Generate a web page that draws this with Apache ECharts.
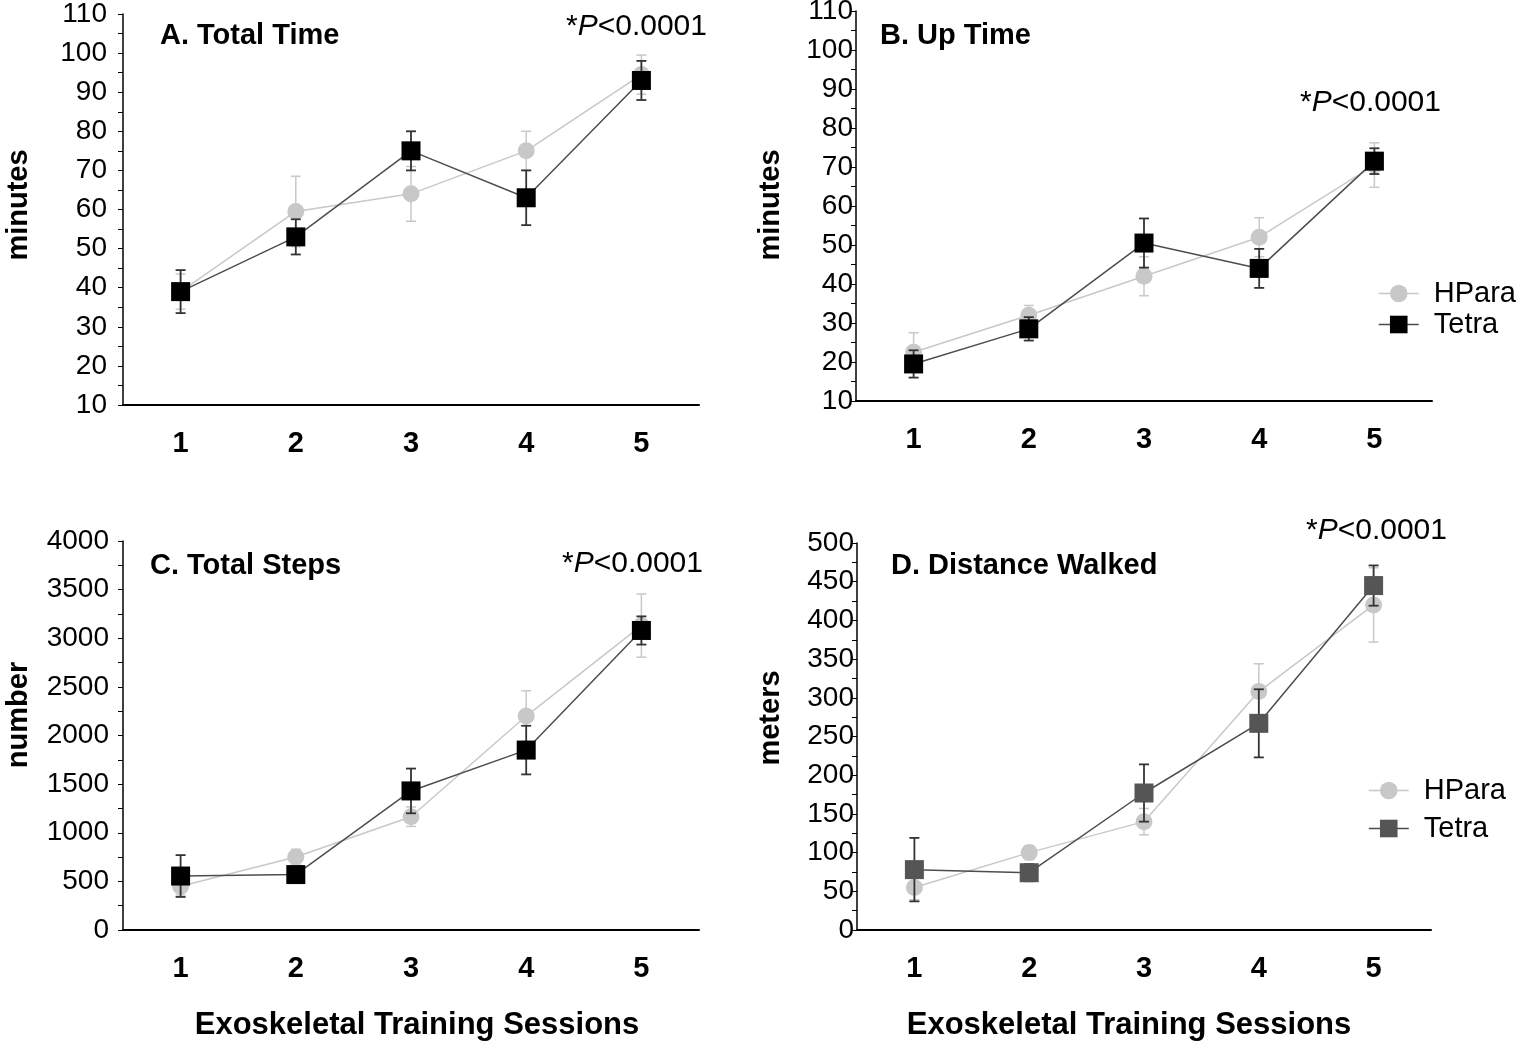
<!DOCTYPE html>
<html lang="en">
<head>
    <meta charset="UTF-8">
    <title>Exoskeletal Training Sessions</title>
    <script src="https://cdn.jsdelivr.net/npm/echarts@6/dist/echarts.min.js"></script>
    <style>
        html, body { margin: 0; padding: 0; background: #fff; }
        #main { width: 1520px; height: 1048px; }
    </style>
</head>
<body>
    <div id="main"></div>
    <script>
        const sessions = ['1', '2', '3', '4', '5'];

        // A. Total Time (minutes), mean and error
        const totalTimeHPara = [39, 59.5, 64, 75, 94.5];
        const totalTimeHParaErr = [4.5, 9, 7, 5, 5];
        const totalTimeTetra = [39, 53, 75, 63, 93];
        const totalTimeTetraErr = [5.5, 4.5, 5, 7, 5];

        // B. Up Time (minutes)
        const upTimeHPara = [22.5, 32, 42, 52, 70.5];
        const upTimeHParaErr = [5, 2.5, 5, 5, 5.7];
        const upTimeTetra = [19.5, 28.5, 50.5, 44, 71.5];
        const upTimeTetraErr = [3.5, 3, 6.3, 5, 3.3];

        // C. Total Steps (number)
        const stepsHPara = [450, 750, 1165, 2200, 3130];
        const stepsHParaErr = [90, 80, 100, 260, 325];
        const stepsTetra = [555, 570, 1430, 1850, 3080];
        const stepsTetraErr = [215, 40, 230, 250, 145];

        // D. Distance Walked (meters)
        const distHPara = [55, 100, 140, 308, 420];
        const distHParaErr = [16, 9, 17, 36, 48];
        const distTetra = [78, 74, 177, 267, 445];
        const distTetraErr = [41, 11, 37, 44, 26];

        const FONT = '"Liberation Sans", Arial, Helvetica, sans-serif';
        const HPARA_COLOR = '#c8c8c8';
        const TETRA_LINE = '#4d4d4d';

        const panels = [
            { grid: { left: 123, top: 14, width: 576, height: 391 }, min: 10, max: 110, interval: 10, labelMargin: 16,
              hp: totalTimeHPara, hpErr: totalTimeHParaErr, te: totalTimeTetra, teErr: totalTimeTetraErr, teColor: '#000' },
            { grid: { left: 856, top: 11, width: 576, height: 390 }, min: 10, max: 110, interval: 10, labelMargin: 3,
              hp: upTimeHPara, hpErr: upTimeHParaErr, te: upTimeTetra, teErr: upTimeTetraErr, teColor: '#000' },
            { grid: { left: 123, top: 541, width: 576, height: 389 }, min: 0, max: 4000, interval: 500, labelMargin: 14,
              hp: stepsHPara, hpErr: stepsHParaErr, te: stepsTetra, teErr: stepsTetraErr, teColor: '#000' },
            { grid: { left: 857, top: 543, width: 574, height: 387 }, min: 0, max: 500, interval: 50, labelMargin: 3,
              hp: distHPara, hpErr: distHParaErr, te: distTetra, teErr: distTetraErr, teColor: '#555' }
        ];

        function errorBar(color, width) {
            return function (params, api) {
                const x = api.value(0);
                const top = api.coord([x, api.value(2)]);
                const bot = api.coord([x, api.value(1)]);
                const hw = 5;
                const style = { stroke: color, lineWidth: width };
                return {
                    type: 'group',
                    children: [
                        { type: 'line', shape: { x1: top[0], y1: top[1], x2: bot[0], y2: bot[1] }, style: style },
                        { type: 'line', shape: { x1: top[0] - hw, y1: top[1], x2: top[0] + hw, y2: top[1] }, style: style },
                        { type: 'line', shape: { x1: bot[0] - hw, y1: bot[1], x2: bot[0] + hw, y2: bot[1] }, style: style }
                    ]
                };
            };
        }

        const grids = [], xAxes = [], yAxes = [], series = [];

        panels.forEach((p, i) => {
            grids.push(Object.assign({ outerBoundsMode: 'none', containLabel: false }, p.grid));
            xAxes.push({
                type: 'category',
                gridIndex: i,
                data: sessions,
                boundaryGap: true,
                axisLine: { lineStyle: { color: '#000', width: 2 } },
                axisTick: { alignWithLabel: true, length: 5, lineStyle: { color: '#555' } },
                axisLabel: { interval: 0, margin: 24, color: '#000', fontSize: 29, fontWeight: 'bold', fontFamily: FONT },
                splitLine: { show: false }
            });
            yAxes.push({
                type: 'value',
                gridIndex: i,
                min: p.min,
                max: p.max,
                interval: p.interval,
                axisLine: { show: true, lineStyle: { color: '#000', width: 1.5 } },
                axisTick: { show: true, length: 5, lineStyle: { color: '#000' } },
                minorTick: { show: true, splitNumber: 2, length: 5, lineStyle: { color: '#000' } },
                axisLabel: { margin: p.labelMargin, color: '#000', fontSize: 28, fontFamily: FONT,
                             formatter: v => String(v) },
                splitLine: { show: false }
            });

            series.push({
                name: 'HPara err', type: 'custom', xAxisIndex: i, yAxisIndex: i, z: 2,
                renderItem: errorBar(HPARA_COLOR, 1.5),
                data: p.hp.map((v, k) => [k, v - p.hpErr[k], v + p.hpErr[k]])
            });
            series.push({
                name: 'HPara', type: 'line', xAxisIndex: i, yAxisIndex: i, z: 3,
                data: p.hp,
                symbol: 'circle', symbolSize: 17,
                lineStyle: { color: HPARA_COLOR, width: 1.5 },
                itemStyle: { color: HPARA_COLOR },
                emphasis: { disabled: true }
            });
            series.push({
                name: 'Tetra err', type: 'custom', xAxisIndex: i, yAxisIndex: i, z: 4,
                renderItem: errorBar('#333', 1.8),
                data: p.te.map((v, k) => [k, v - p.teErr[k], v + p.teErr[k]])
            });
            series.push({
                name: 'Tetra', type: 'line', xAxisIndex: i, yAxisIndex: i, z: 5,
                data: p.te,
                symbol: 'rect', symbolSize: 19,
                lineStyle: { color: TETRA_LINE, width: 1.5 },
                itemStyle: { color: p.teColor },
                emphasis: { disabled: true }
            });
        });

        function legendFor(left, top, gap, tetraColor) {
            return {
                orient: 'vertical',
                left: left,
                top: top,
                itemWidth: 40,
                itemHeight: 22,
                itemGap: gap,
                selectedMode: false,
                textStyle: { fontSize: 29, fontFamily: FONT, color: '#000', padding: [0, 0, 0, 10] },
                data: [
                    { name: 'HPara', itemStyle: { color: HPARA_COLOR }, lineStyle: { color: HPARA_COLOR, width: 1.5 } },
                    { name: 'Tetra', itemStyle: { color: tetraColor }, lineStyle: { color: TETRA_LINE, width: 1.5 } }
                ]
            };
        }

        function label(text, x, y, opts) {
            opts = opts || {};
            return {
                type: 'text',
                x: x,
                y: y,
                rotation: opts.rotation || 0,
                style: {
                    text: text,
                    fill: '#000',
                    font: (opts.weight || 'normal') + ' ' + (opts.size || 29) + 'px ' + FONT,
                    align: opts.align || 'left',
                    textAlign: opts.align || 'left',
                    verticalAlign: 'middle',
                    textVerticalAlign: 'middle',
                    rich: opts.rich
                }
            };
        }

        const pRich = { i: { fontStyle: 'italic', fontSize: 30, fontFamily: FONT, fill: '#000' } };

        const texts = [
            label('A. Total Time', 160, 36, { weight: 'bold' }),
            label('B. Up Time', 880, 36, { weight: 'bold' }),
            label('C. Total Steps', 150, 566, { weight: 'bold' }),
            label('D. Distance Walked', 891, 566, { weight: 'bold' }),
            label('*{i|P}<0.0001', 566, 27, { size: 30, rich: pRich }),
            label('*{i|P}<0.0001', 1300, 103, { size: 30, rich: pRich }),
            label('*{i|P}<0.0001', 562, 564, { size: 30, rich: pRich }),
            label('*{i|P}<0.0001', 1306, 531, { size: 30, rich: pRich }),
            label('minutes', 19, 205, { weight: 'bold', align: 'center', rotation: Math.PI / 2 }),
            label('minutes', 771, 205, { weight: 'bold', align: 'center', rotation: Math.PI / 2 }),
            label('number', 19, 715, { weight: 'bold', align: 'center', rotation: Math.PI / 2 }),
            label('meters', 771, 718, { weight: 'bold', align: 'center', rotation: Math.PI / 2 }),
            label('Exoskeletal Training Sessions', 417, 1025, { weight: 'bold', size: 31, align: 'center' }),
            label('Exoskeletal Training Sessions', 1129, 1025, { weight: 'bold', size: 31, align: 'center' })
        ];

        const option = {
            backgroundColor: '#fff',
            animation: false,
            textStyle: { fontFamily: FONT },
            grid: grids,
            xAxis: xAxes,
            yAxis: yAxes,
            legend: [
                legendFor(1373, 274, 2, '#000'),
                legendFor(1363, 771, 9, '#555')
            ],
            graphic: { elements: texts },
            series: series
        };

        const chart = echarts.init(document.getElementById('main'));
        chart.setOption(option);
    </script>
</body>
</html>
